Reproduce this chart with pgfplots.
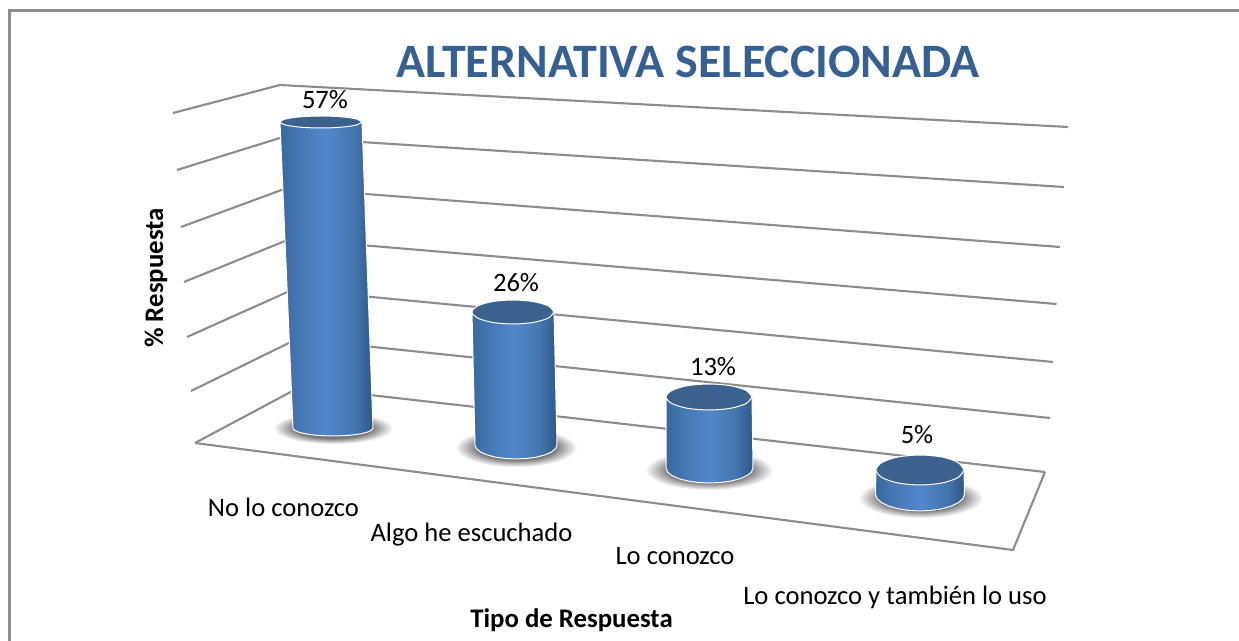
\documentclass[border=0pt]{standalone}
\usepackage{fontspec}
\setmainfont{Carlito}
\usepackage{pgfplots}
\pgfplotsset{compat=1.18}
\definecolor{gridgray}{HTML}{8C8C8C}
\definecolor{topblue}{HTML}{3B628F}
\definecolor{titleblue}{HTML}{376092}
\definecolor{c0}{HTML}{38689F}
\definecolor{c1}{HTML}{4677B4}
\definecolor{c2}{HTML}{5187CB}
\definecolor{c3}{HTML}{4475AE}
\definecolor{c4}{HTML}{2F5788}
\definecolor{s0}{HTML}{555555}
\definecolor{s1}{HTML}{7A7A7A}
\pgfdeclarehorizontalshading{cyl}{100bp}{color(0bp)=(c0); color(25bp)=(c0); color(35bp)=(c1); color(50bp)=(c2); color(65bp)=(c3); color(75bp)=(c4); color(100bp)=(c4)}
\pgfdeclareradialshading{shad}{\pgfpointorigin}{color(0bp)=(s0); color(16bp)=(s1); color(25bp)=(white); color(50bp)=(white)}
\begin{document}
\begin{tikzpicture}
\begin{axis}[
  scale only axis, width=619.5pt, height=320.5pt,
  xmin=0, xmax=1239, ymin=0, ymax=641, y dir=reverse,
  axis lines=none, clip=true,
  grid line/.style={draw=gridgray, line width=1.05pt},
  lab/.style={draw=none, mark=none, nodes near coords, point meta=explicit symbolic,
    every node near coord/.append style={anchor=center, inner sep=0pt, font=\fontsize{13.3}{16}\selectfont, text=black}},
]
% page and frame
\addplot[fill=white, draw=none] coordinates {(0,0)(1239,0)(1239,641)(0,641)} --cycle;
\addplot[draw=gridgray, line width=1.5pt] coordinates {(9.5,641)(9.5,10.5)(1239,10.5)};
% left wall
\addplot[grid line] coordinates {(173,113)(280,85)(1068,127)};
\addplot[grid line] coordinates {(177,170)(283,137)(1064,187)};
\addplot[grid line] coordinates {(181,227)(287,188)(1060,247)};
\addplot[grid line] coordinates {(184,282)(290,239)(1056.5,304)};
\addplot[grid line] coordinates {(187,337)(293,289.5)(1053,362)};
\addplot[grid line] coordinates {(191,391)(297,339)(1050,418)};
\addplot[grid line] coordinates {(195,443)(300,387)(1045,472)};
% floor
\addplot[grid line] coordinates {(195,443)(1013,550)(1045,472)};
% shadows
\addplot[shading=shad, draw=none] coordinates {(273,412)(393,412)(393,444)(273,444)} --cycle;
\addplot[shading=shad, draw=none] coordinates {(455,428)(577,428)(577,467)(455,467)} --cycle;
\addplot[shading=shad, draw=none] coordinates {(645,450)(773,450)(773,490)(645,490)} --cycle;
\addplot[shading=shad, draw=none] coordinates {(858,478)(983,478)(983,518)(858,518)} --cycle;
% cylinder 1: 57%
\addplot[shading=cyl, draw=white, line width=0.5pt] coordinates {(280,122)(293,428)(294.4,430.1)(298.4,432)(304.7,433.7)(313,434.9)(322.6,435.7)(333,436)(343.4,435.7)(353,434.9)(361.3,433.7)(367.6,432)(371.6,430.1)(373,428)(362,122)} --cycle;
\addplot[smooth, fill=topblue, draw=white, line width=0.5pt] coordinates {(362,122)(356.5,125)(341.5,127.2)(321,128)(300.5,127.2)(285.5,125)(280,122)(285.5,119)(300.5,116.8)(321,116)(341.5,116.8)(356.5,119)(362,122)} --cycle;
% cylinder 2: 26%
\addplot[shading=cyl, draw=white, line width=0.5pt] coordinates {(472,312)(475,445)(476.4,448.6)(480.5,452)(487,454.9)(495.5,457.1)(505.4,458.5)(516,459)(526.6,458.5)(536.5,457.1)(545,454.9)(551.5,452)(555.6,448.6)(557,445)(554,312)} --cycle;
\addplot[smooth, fill=topblue, draw=white, line width=0.5pt] coordinates {(554,312)(548.5,318)(533.5,322.4)(513,324)(492.5,322.4)(477.5,318)(472,312)(477.5,306)(492.5,301.6)(513,300)(533.5,301.6)(548.5,306)(554,312)} --cycle;
% cylinder 3: 13%
\addplot[shading=cyl, draw=white, line width=0.5pt] coordinates {(666,397)(666,468)(667.5,471.9)(671.8,475.5)(678.7,478.6)(687.7,481)(698.2,482.5)(709.5,483)(720.8,482.5)(731.3,481)(740.3,478.6)(747.2,475.5)(751.5,471.9)(753,468)(752,397)} --cycle;
\addplot[smooth, fill=topblue, draw=white, line width=0.5pt] coordinates {(752,397)(746.2,403.5)(730.5,408.3)(709,410)(687.5,408.3)(671.8,403.5)(666,397)(671.8,390.5)(687.5,385.7)(709,384)(730.5,385.7)(746.2,390.5)(752,397)} --cycle;
% cylinder 4: 5%
\addplot[shading=cyl, draw=white, line width=0.5pt] coordinates {(876,470)(875.5,494)(877,498.4)(881.5,502.5)(888.5,506)(897.7,508.7)(908.5,510.4)(920,511)(931.5,510.4)(942.3,508.7)(951.5,506)(958.5,502.5)(963,498.4)(964.5,494)(964,470)} --cycle;
\addplot[smooth, fill=topblue, draw=white, line width=0.5pt] coordinates {(964,470)(958.1,477.5)(942,483)(920,485)(898,483)(881.9,477.5)(876,470)(881.9,462.5)(898,457)(920,455)(942,457)(958.1,462.5)(964,470)} --cycle;
% value labels
\addplot[lab] coordinates {(325,100)[57\%] (516,283)[26\%] (713,367)[13\%] (917,435)[5\%]};
% category labels
\addplot[lab] coordinates {(283.5,507)[No lo conozco] (471.5,535)[Algo he escuchado] (675,556)[Lo conozco] (895,597)[Lo conozco y también lo uso]};
\node[font=\fontsize{24}{28}\selectfont\bfseries, text=titleblue, inner sep=0pt] at (axis cs:688,62) {ALTERNATIVA SELECCIONADA};
\node[font=\fontsize{13.4}{16}\selectfont\bfseries, inner sep=0pt] at (axis cs:571.5,620) {Tipo de Respuesta};
\node[font=\fontsize{13.4}{16}\selectfont\bfseries, inner sep=0pt, rotate=90] at (axis cs:156,278) {\% Respuesta};
\end{axis}
\end{tikzpicture}
\end{document}
